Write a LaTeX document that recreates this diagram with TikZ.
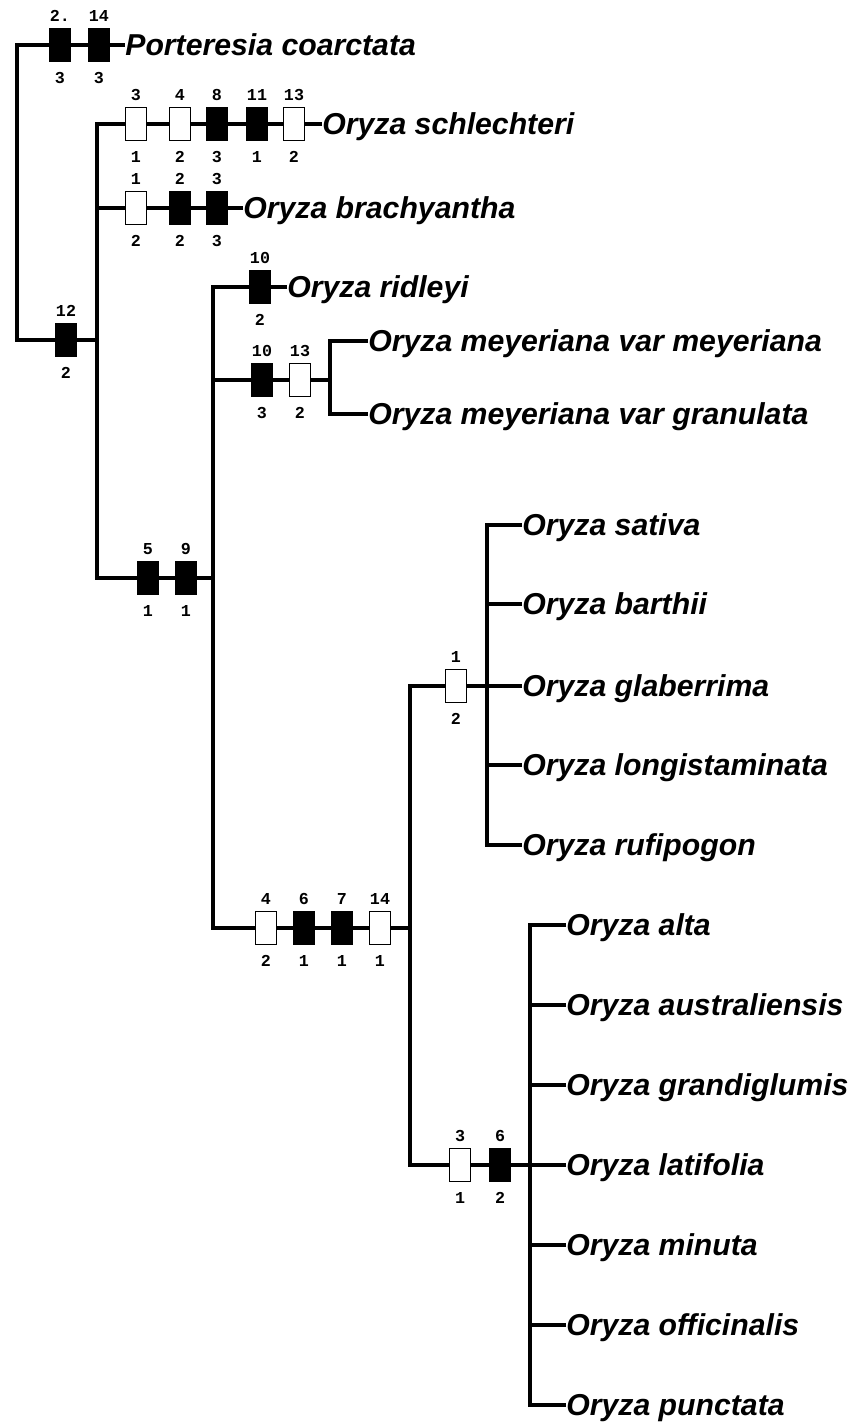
\documentclass[tikz,border=0pt]{standalone}
\usepackage{fontspec}
\setmainfont{Liberation Sans}
\newfontfamily\numfont{Liberation Mono}

\tikzset{
  branch/.style={line width=2.7pt, line join=miter},
  uniq/.style={draw, line width=0.8pt, fill=black, inner sep=0pt, minimum width=0.42cm, minimum height=0.66cm},
  homopl/.style={uniq, fill=white},
  num/.style={font=\numfont\fontsize{9.5}{9.5}\selectfont\bfseries, inner sep=0pt, label distance=0.11cm},
  numb/.style={num, label distance=0.19cm},
  chg/.style 2 args={label={[num]above:#1}, label={[numb]below:#2}},
  taxon/.style={font=\fontsize{17.2}{20}\selectfont\bfseries\itshape, anchor=west, inner sep=0pt, text height=12.4pt, text depth=0pt}
}

\begin{document}
\begin{tikzpicture}[x=0.02cm, y=-0.02cm]
    \useasboundingbox (0,0) rectangle (857,1425);

    % taxa
    \node[taxon] (pc) at (125,45) {Porteresia coarctata};
    \node[taxon] (osc) at (322,124) {Oryza schlechteri};
    \node[taxon] (obr) at (243,208) {Oryza brachyantha};
    \node[taxon] (ori) at (287,287) {Oryza ridleyi};
    \node[taxon] (omm) at (368,341) {Oryza meyeriana var meyeriana};
    \node[taxon] (omg) at (368,414) {Oryza meyeriana var granulata};
    \node[taxon] (osa) at (522,525) {Oryza sativa};
    \node[taxon] (oba) at (522,604) {Oryza barthii};
    \node[taxon] (ogl) at (522,686) {Oryza glaberrima};
    \node[taxon] (olo) at (522,765) {Oryza longistaminata};
    \node[taxon] (oru) at (522,845) {Oryza rufipogon};
    \node[taxon] (oal) at (566,925) {Oryza alta};
    \node[taxon] (oau) at (566,1005) {Oryza australiensis};
    \node[taxon] (ogr) at (566,1085) {Oryza grandiglumis};
    \node[taxon] (ola) at (566,1165) {Oryza latifolia};
    \node[taxon] (omi) at (566,1245) {Oryza minuta};
    \node[taxon] (oof) at (566,1325) {Oryza officinalis};
    \node[taxon] (opu) at (566,1405) {Oryza punctata};

    % joints
    \coordinate (a) at (17,340);
    \coordinate (b) at (97,340);
    \coordinate (c) at (97,578);
    \coordinate (d) at (213,578);
    \coordinate (e) at (213,928);
    \coordinate (f) at (410,928);
    \coordinate (g) at (213,380);
    \coordinate (h) at (330,380);
    \coordinate (i) at (410,686);
    \coordinate (j) at (487,686);
    \coordinate (k) at (410,1165);
    \coordinate (l) at (530,1165);

    % branches
    \draw[branch] (pc.west) -| (a) -- (b);
    \draw[branch] (osc.west) -| (c) -- (d);
    \draw[branch] (obr.west) -- (obr.west -| c);
    \draw[branch] (ori.west) -| (e) -- (f);
    \draw[branch] (g) -- (h);
    \draw[branch] (omm.west) -| (h) |- (omg.west);
    \draw[branch] (j) -- (i) -- (k) -- (l);
    \draw[branch] (osa.west) -| (j) |- (oru.west);
    \draw[branch] (oba.west) -- (oba.west -| j);
    \draw[branch] (ogl.west) -- (j);
    \draw[branch] (olo.west) -- (olo.west -| j);
    \draw[branch] (oal.west) -| (l) |- (opu.west);
    \draw[branch] (oau.west) -- (oau.west -| l);
    \draw[branch] (ogr.west) -- (ogr.west -| l);
    \draw[branch] (ola.west) -- (l);
    \draw[branch] (omi.west) -- (omi.west -| l);
    \draw[branch] (oof.west) -- (oof.west -| l);

    % character changes
    \node[uniq, chg={2.}{3}] (p2) at (60,45) {};
    \node[uniq, chg={14}{3}] (p14) at (99,45) {};
    \node[uniq, chg={12}{2}] (r12) at (66,340) {};

    \node[homopl, chg={3}{1}] (s3) at (136,124) {};
    \node[homopl, chg={4}{2}] (s4) at (180,124) {};
    \node[uniq, chg={8}{3}] (s8) at (217,124) {};
    \node[uniq, chg={11}{1}] (s11) at (257,124) {};
    \node[homopl, chg={13}{2}] (s13) at (294,124) {};

    \node[homopl, chg={1}{2}] (b1) at (136,208) {};
    \node[uniq, chg={2}{2}] (b2) at (180,208) {};
    \node[uniq, chg={3}{3}] (b3) at (217,208) {};

    \node[uniq, chg={5}{1}] (c5) at (148,578) {};
    \node[uniq, chg={9}{1}] (c9) at (186,578) {};

    \node[uniq, chg={10}{2}] (ri10) at (260,287) {};
    \node[uniq, chg={10}{3}] (m10) at (262,380) {};
    \node[homopl, chg={13}{2}] (m13) at (300,380) {};

    \node[homopl, chg={4}{2}] (e4) at (266,928) {};
    \node[uniq, chg={6}{1}] (e6) at (304,928) {};
    \node[uniq, chg={7}{1}] (e7) at (342,928) {};
    \node[homopl, chg={14}{1}] (e14) at (380,928) {};

    \node[homopl, chg={1}{2}] (sa1) at (456,686) {};
    \node[homopl, chg={3}{1}] (al3) at (460,1165) {};
    \node[uniq, chg={6}{2}] (al6) at (500,1165) {};
\end{tikzpicture}
\end{document}
